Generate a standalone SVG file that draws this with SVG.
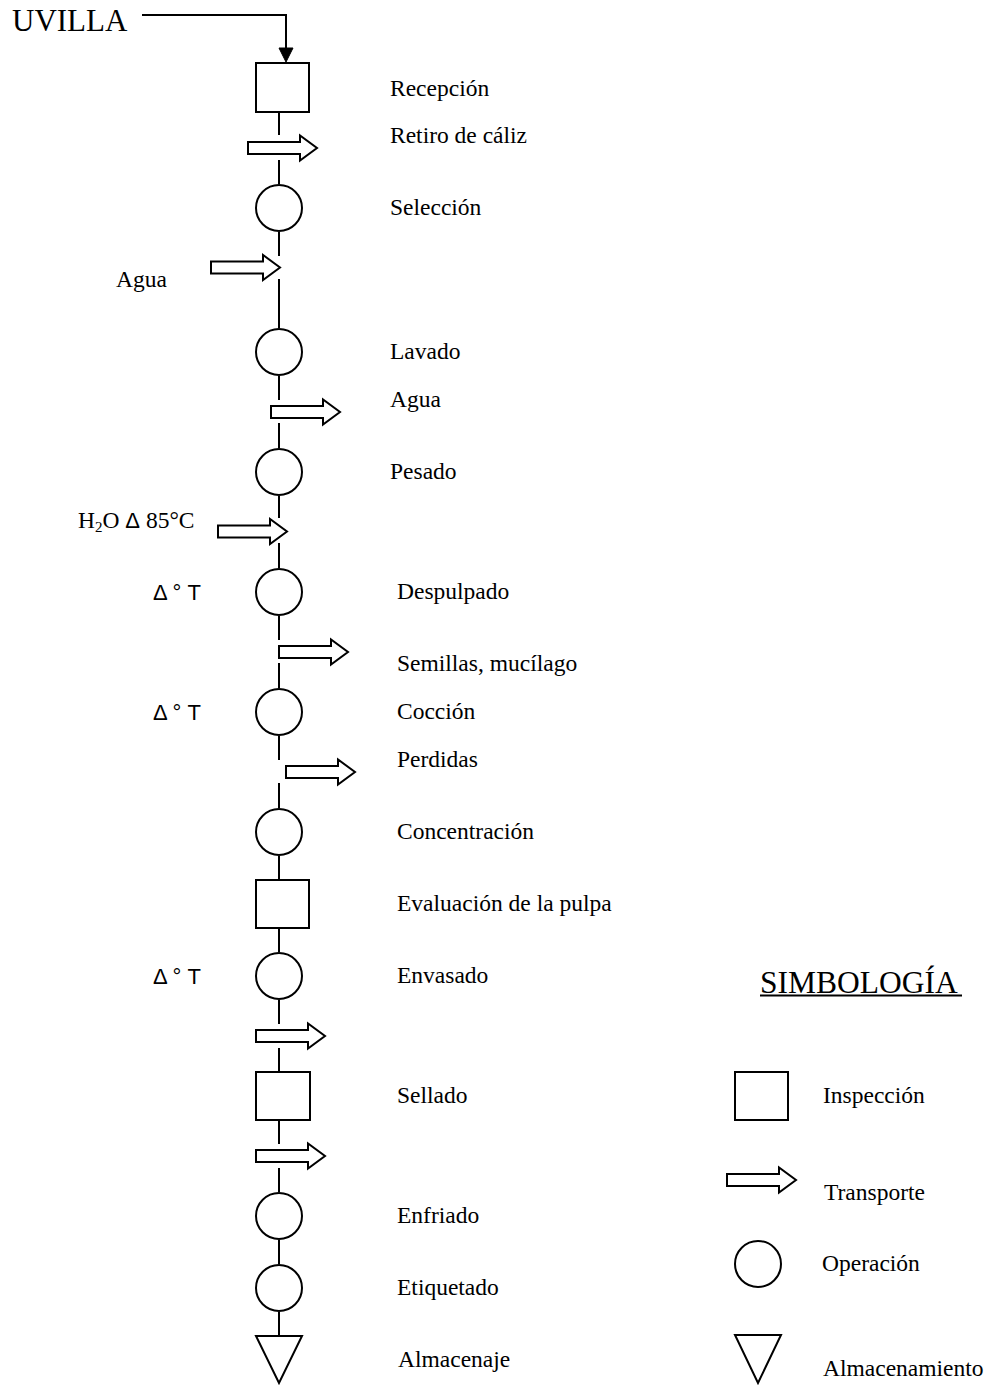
<svg xmlns="http://www.w3.org/2000/svg" width="993" height="1385" viewBox="0 0 993 1385">
  <style>
    .shape { fill: #ffffff; stroke: #000000; stroke-width: 2; }
    .line { fill: none; stroke: #000000; stroke-width: 2; }
    .lbl { font-family: "Liberation Serif", "Times New Roman", serif; font-size: 23.5px; fill: #000000; }
    .sans { font-family: "Liberation Sans", Arial, sans-serif; font-size: 22px; fill: #000000; }
  </style>
  <defs>
    <!-- block arrow used for transport steps; origin at the tail, centre line y=0 -->
    <path id="blockArrow" d="M0,-6 L52,-6 L52,-12.5 L69,0 L52,12.5 L52,6 L0,6 Z"/>
  </defs>
  <rect width="993" height="1385" fill="#ffffff"/>

  <!-- connectors -->
  <g id="connectors">
    <path class="line" d="M142,15 H286 V49"/>
    <path d="M279,48 L293,48 L286,62 Z" fill="#000000" stroke="#000000" stroke-width="1" stroke-linejoin="miter"/>
    <line class="line" x1="279" y1="112" x2="279" y2="135"/>
    <line class="line" x1="279" y1="160" x2="279" y2="184"/>
    <line class="line" x1="279" y1="232" x2="279" y2="256"/>
    <line class="line" x1="279" y1="279" x2="279" y2="328"/>
    <line class="line" x1="279" y1="376" x2="279" y2="400"/>
    <line class="line" x1="279" y1="423" x2="279" y2="448"/>
    <line class="line" x1="279" y1="496" x2="279" y2="518"/>
    <line class="line" x1="279" y1="543" x2="279" y2="568"/>
    <line class="line" x1="279" y1="616" x2="279" y2="640"/>
    <line class="line" x1="279" y1="663" x2="279" y2="688"/>
    <line class="line" x1="279" y1="736" x2="279" y2="760"/>
    <line class="line" x1="279" y1="783" x2="279" y2="808"/>
    <line class="line" x1="279" y1="856" x2="279" y2="880"/>
    <line class="line" x1="279" y1="928" x2="279" y2="952"/>
    <line class="line" x1="279" y1="1000" x2="279" y2="1024"/>
    <line class="line" x1="279" y1="1048" x2="279" y2="1072"/>
    <line class="line" x1="279" y1="1120" x2="279" y2="1144"/>
    <line class="line" x1="279" y1="1168" x2="279" y2="1192"/>
    <line class="line" x1="279" y1="1240" x2="279" y2="1264"/>
    <line class="line" x1="279" y1="1312" x2="279" y2="1336"/>
  </g>

  <!-- process flow -->
  <g id="input-uvilla">
    <text x="12" y="31" font-family="Liberation Serif, Times New Roman, serif" font-size="31" fill="#000">UVILLA</text>
  </g>
  <g id="recepcion">
    <rect class="shape" x="256" y="63" width="53" height="49"/>
    <text class="lbl" x="390" y="96">Recepción</text>
  </g>
  <g id="retiro-caliz">
    <use href="#blockArrow" class="shape" transform="translate(248,148)"/>
    <text class="lbl" x="390" y="143">Retiro de cáliz</text>
  </g>
  <g id="seleccion">
    <circle class="shape" cx="279" cy="208" r="23"/>
    <text class="lbl" x="390" y="215">Selección</text>
  </g>
  <g id="agua-entrada">
    <use href="#blockArrow" class="shape" transform="translate(211,267.5)"/>
    <text class="lbl" x="116" y="287">Agua</text>
  </g>
  <g id="lavado">
    <circle class="shape" cx="279" cy="352" r="23"/>
    <text class="lbl" x="390" y="359">Lavado</text>
  </g>
  <g id="agua-salida">
    <use href="#blockArrow" class="shape" transform="translate(271,412)"/>
    <text class="lbl" x="390" y="407">Agua</text>
  </g>
  <g id="pesado">
    <circle class="shape" cx="279" cy="472" r="23"/>
    <text class="lbl" x="390" y="479">Pesado</text>
  </g>
  <g id="agua-caliente">
    <use href="#blockArrow" class="shape" transform="translate(218,531.5)"/>
    <text class="lbl" x="78" y="528">H<tspan font-size="15" dy="4">2</tspan><tspan dy="-4">O </tspan><tspan font-family="Liberation Sans, Arial, sans-serif" font-size="22">Δ</tspan> 85°C</text>
  </g>
  <g id="despulpado">
    <circle class="shape" cx="279" cy="592" r="23"/>
    <text class="sans" x="153" y="600">Δ ° T</text>
    <text class="lbl" x="397" y="599">Despulpado</text>
  </g>
  <g id="semillas">
    <use href="#blockArrow" class="shape" transform="translate(279,652)"/>
    <text class="lbl" x="397" y="671">Semillas, mucílago</text>
  </g>
  <g id="coccion">
    <circle class="shape" cx="279" cy="712" r="23"/>
    <text class="sans" x="153" y="720">Δ ° T</text>
    <text class="lbl" x="397" y="719">Cocción</text>
  </g>
  <g id="perdidas">
    <use href="#blockArrow" class="shape" transform="translate(286,772)"/>
    <text class="lbl" x="397" y="767">Perdidas</text>
  </g>
  <g id="concentracion">
    <circle class="shape" cx="279" cy="832" r="23"/>
    <text class="lbl" x="397" y="839">Concentración</text>
  </g>
  <g id="evaluacion">
    <rect class="shape" x="256" y="880" width="53" height="48"/>
    <text class="lbl" x="397" y="911">Evaluación de la pulpa</text>
  </g>
  <g id="envasado">
    <circle class="shape" cx="279" cy="976" r="23"/>
    <text class="sans" x="153" y="984">Δ ° T</text>
    <text class="lbl" x="397" y="983">Envasado</text>
  </g>
  <g id="transporte-1">
    <use href="#blockArrow" class="shape" transform="translate(256,1036)"/>
  </g>
  <g id="sellado">
    <rect class="shape" x="256" y="1072" width="54" height="48"/>
    <text class="lbl" x="397" y="1103">Sellado</text>
  </g>
  <g id="transporte-2">
    <use href="#blockArrow" class="shape" transform="translate(256,1156)"/>
  </g>
  <g id="enfriado">
    <circle class="shape" cx="279" cy="1216" r="23"/>
    <text class="lbl" x="397" y="1223">Enfriado</text>
  </g>
  <g id="etiquetado">
    <circle class="shape" cx="279" cy="1288" r="23"/>
    <text class="lbl" x="397" y="1295">Etiquetado</text>
  </g>
  <g id="almacenaje">
    <path class="shape" d="M256,1336 H302 L279,1383 Z"/>
    <text class="lbl" x="398" y="1367">Almacenaje</text>
  </g>

  <!-- legend -->
  <g id="simbologia">
    <text x="760" y="993" font-family="Liberation Serif, Times New Roman, serif" font-size="31.5" fill="#000">SIMBOLOGÍA</text>
    <line x1="760" y1="995.5" x2="962" y2="995.5" stroke="#000" stroke-width="2"/>
  </g>
  <g id="legend-inspeccion">
    <rect class="shape" x="735" y="1072" width="53" height="48"/>
    <text class="lbl" x="823" y="1103">Inspección</text>
  </g>
  <g id="legend-transporte">
    <use href="#blockArrow" class="shape" transform="translate(727,1180)"/>
    <text class="lbl" x="824" y="1200">Transporte</text>
  </g>
  <g id="legend-operacion">
    <circle class="shape" cx="758" cy="1264" r="23"/>
    <text class="lbl" x="822" y="1271">Operación</text>
  </g>
  <g id="legend-almacenamiento">
    <path class="shape" d="M735,1335 H781 L758,1383 Z"/>
    <text class="lbl" x="823" y="1376">Almacenamiento</text>
  </g>
</svg>
